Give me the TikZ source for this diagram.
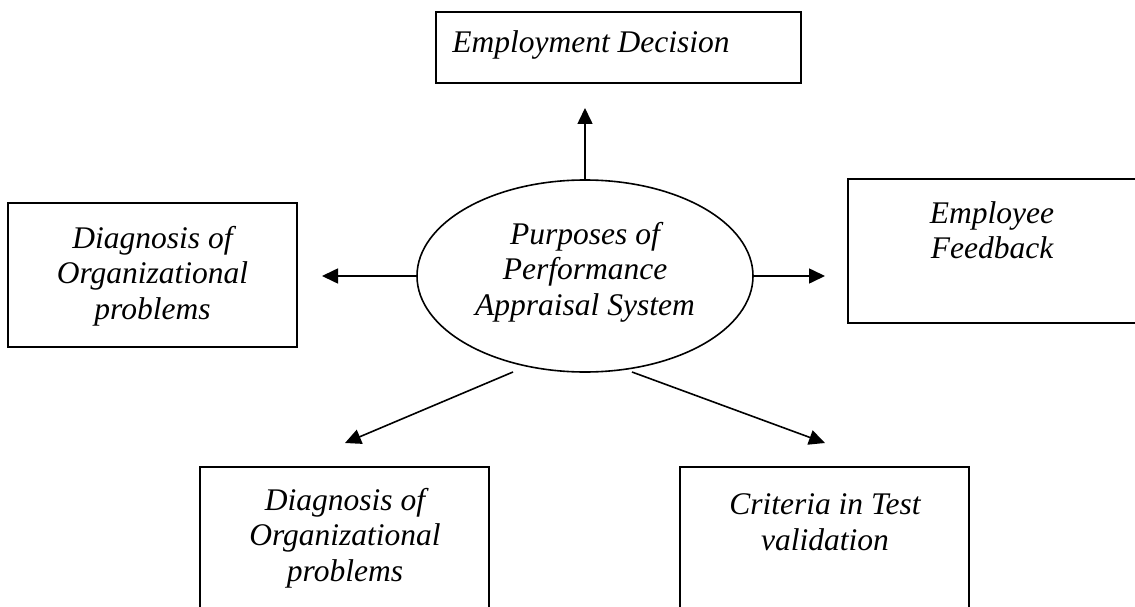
\documentclass[tikz,border=0pt]{standalone}
\usepackage{fontspec}
\setmainfont{Liberation Serif}
\usetikzlibrary{arrows.meta,shapes.geometric}

\begin{document}
\begin{tikzpicture}[x=1pt,y=-1pt,
  box/.style={draw,line width=1.8pt,rectangle,inner sep=0pt},
  txt/.style={align=center,inner sep=0pt,font=\fontsize{31.5}{35.5}\selectfont\itshape},
  hub/.style={draw,line width=1.6pt,ellipse,inner sep=0pt,minimum width=336pt,minimum height=192pt},
  link/.style={line width=1.6pt,-{Triangle[length=16pt,width=15pt]}}]

\useasboundingbox (0,0) rectangle (1135,607);
\clip (0,0) rectangle (1135,607);

% central purpose ellipse
\node[hub] (hub) at (585,276) {};
\node[txt] (hubtxt) at (585,272) {Purposes of\\Performance\\Appraisal System};

% surrounding boxes
\node[box,minimum width=365pt,minimum height=71pt] (decision) at (618.5,47.5) {};
\node[txt] (decisiontxt) at (591,45) {Employment Decision};

\node[box,minimum width=289pt,minimum height=144pt] (diagA) at (152.5,275) {};
\node[txt] (diagAtxt) at (152.5,276) {Diagnosis of\\Organizational\\problems};

\node[box,minimum width=292pt,minimum height=144pt] (feedback) at (994,251) {};
\node[txt] (feedbacktxt) at (992,230) {Employee\\Feedback};

\node[box,minimum width=289pt,minimum height=170pt] (diagB) at (344.5,552) {};
\node[txt] (diagBtxt) at (345,538) {Diagnosis of\\Organizational\\problems};

\node[box,minimum width=289pt,minimum height=170pt] (criteria) at (824.5,552) {};
\node[txt] (criteriatxt) at (825,522) {Criteria in Test\\validation};

% arrow ends
\coordinate (upTip) at (585,108);
\coordinate (leftTip) at (322,276);
\coordinate (rightTip) at (825,276);
\coordinate (dlStart) at (513,372);
\coordinate (dlTip) at (345,443);
\coordinate (drStart) at (632,372);
\coordinate (drTip) at (825,443);

\draw[link] (hub.north) -- (upTip);
\draw[link] (hub.west) -- (leftTip);
\draw[link] (hub.east) -- (rightTip);
\draw[link] (dlStart) -- (dlTip);
\draw[link] (drStart) -- (drTip);
\end{tikzpicture}
\end{document}
